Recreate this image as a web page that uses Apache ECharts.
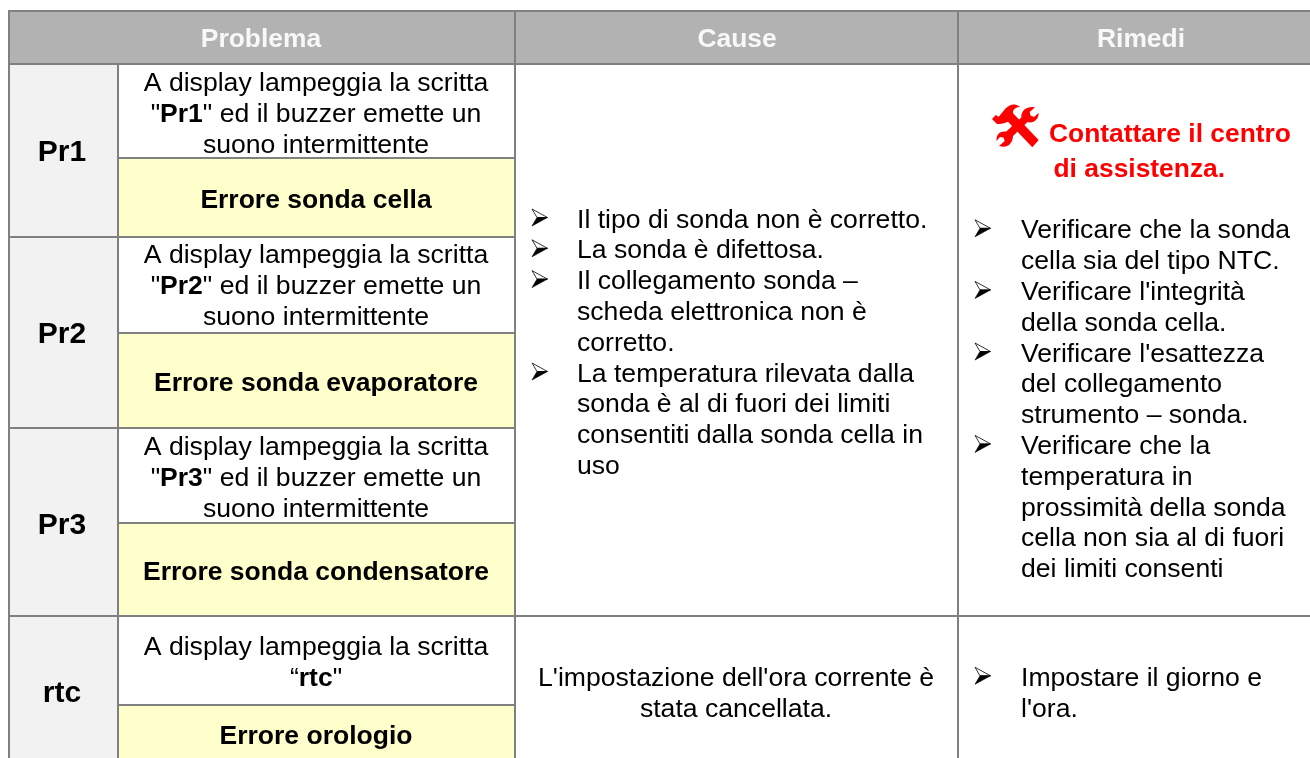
<!DOCTYPE html>
<html>
<head>
<meta charset="utf-8">
<title>Tabella allarmi</title>
<script src="https://cdn.jsdelivr.net/npm/echarts@6/dist/echarts.min.js"></script>
<style>
html, body { margin: 0; padding: 0; background: #fff; overflow: hidden; }
#chart { width: 1310px; height: 758px; }
</style>
</head>
<body>
<div id="chart"></div>
<script>
// table content
const columnHeaders = ['Problema', 'Cause', 'Rimedi'];
const problemCodes = ['Pr1', 'Pr2', 'Pr3', 'rtc'];
const displayMessages = [
    ['A display lampeggia la scritta', '"{b|Pr1}" ed il buzzer emette un', 'suono intermittente'],
    ['A display lampeggia la scritta', '"{b|Pr2}" ed il buzzer emette un', 'suono intermittente'],
    ['A display lampeggia la scritta', '"{b|Pr3}" ed il buzzer emette un', 'suono intermittente'],
    ['A display lampeggia la scritta', '“{b|rtc}"']
];
const errorNames = ['Errore sonda cella', 'Errore sonda evaporatore', 'Errore sonda condensatore', 'Errore orologio'];
// a leading '>' marks a bullet line
const causeLines = [
    '>Il tipo di sonda non è corretto.',
    '>La sonda è difettosa.',
    '>Il collegamento sonda –',
    'scheda elettronica non è',
    'corretto.',
    '>La temperatura rilevata dalla',
    'sonda è al di fuori dei limiti',
    'consentiti dalla sonda cella in',
    'uso'
];
const rtcCauseLines = ["L'impostazione dell'ora corrente è", 'stata cancellata.'];
const remedyTitle = ['Contattare il centro', 'di assistenza.'];
const remedyLines = [
    '>Verificare che la sonda',
    'cella sia del tipo NTC.',
    ">Verificare l'integrità",
    'della sonda cella.',
    ">Verificare l'esattezza",
    'del collegamento',
    'strumento – sonda.',
    '>Verificare che la',
    'temperatura in',
    'prossimità della sonda',
    'cella non sia al di fuori',
    'dei limiti consenti'
];
const rtcRemedyLines = ['>Impostare il giorno e', "l'ora."];

// layout, in page pixels
const colEdges = [9, 118, 515, 958, 1330];
const rowEdges = [11, 64, 158, 237, 333, 428, 523, 616, 705, 790];
const LINE = 30.8;
const FONT = 'Liberation Sans';
const BORDER = '#808080';
const BODY_SIZE = 26.6;
const BOLD_SIZE = 26.5;

const rich = { b: { fontFamily: FONT, fontWeight: 'bold', fontSize: BOLD_SIZE, color: '#000' } };

const cells = [
    { x0: 0, x1: 2, y0: 0, y1: 1, fill: '#b2b2b2' },
    { x0: 2, x1: 3, y0: 0, y1: 1, fill: '#b2b2b2' },
    { x0: 3, x1: 4, y0: 0, y1: 1, fill: '#b2b2b2' },
    { x0: 2, x1: 3, y0: 1, y1: 7, fill: '#fff' },
    { x0: 3, x1: 4, y0: 1, y1: 7, fill: '#fff' },
    { x0: 2, x1: 3, y0: 7, y1: 9, fill: '#fff' },
    { x0: 3, x1: 4, y0: 7, y1: 9, fill: '#fff' }
];
problemCodes.forEach((code, i) => {
    const r = 1 + i * 2;
    cells.push({ x0: 0, x1: 1, y0: r, y1: r + 2, fill: '#f2f2f2' });
    cells.push({ x0: 1, x1: 2, y0: r, y1: r + 1, fill: '#fff' });
    cells.push({ x0: 1, x1: 2, y0: r + 1, y1: r + 2, fill: '#ffffcc' });
});

const texts = [];
const bullets = [];
function addText(text, x, y, opt) {
    texts.push(Object.assign({ text, x, y, size: BODY_SIZE, weight: 'normal', color: '#000', align: 'left' }, opt));
}
function addList(lines, textX, bulletX, startY) {
    lines.forEach((line, i) => {
        const y = startY + i * LINE;
        if (line[0] === '>') {
            bullets.push([bulletX, y - 2.7]);
            line = line.slice(1);
        }
        addText(line, textX, y);
    });
}

const headerX = [261, 737, 1141];
columnHeaders.forEach((h, i) => addText(h, headerX[i], 39.7, { weight: 'bold', size: 26.4, color: '#f8f8f8', align: 'center' }));

const codeY = [153.2, 335.2, 525.8, 693.8];
const messageY = [84, 256, 448, 648];
const errorY = [200.5, 384, 572.5, 737];
problemCodes.forEach((code, i) => {
    addText(code, 62, codeY[i], { weight: 'bold', size: 30, align: 'center' });
    displayMessages[i].forEach((line, j) => addText(line, 316, messageY[i] + j * 31, { align: 'center' }));
    addText(errorNames[i], 316, errorY[i], { weight: 'bold', size: BOLD_SIZE, align: 'center' });
});

addList(causeLines, 577, 532, 220.2);
rtcCauseLines.forEach((line, j) => addText(line, 736, 678.5 + j * LINE, { align: 'center' }));

remedyTitle.forEach((line, j) => addText(line, [1049, 1053.5][j], [135.2, 170][j], { weight: 'bold', size: 26.4, color: '#ff0000' }));
addList(remedyLines, 1021, 975, 231);
addList(rtcRemedyLines, 1021, 975, 678.5);

// tool icon, path coordinates relative to its top left corner
const hammerPath = 'M0 15 L3.7 11 L6.7 12.7 L13.7 4.3 Q18 0 23 0.5 Q26 1 28 3 Q23 3 21 7 L21 9.3 L46.7 36 L40.3 43.3 L16 17.7 L12 19.3 L8 20 L5 20 Z';
const wrenchPath = 'M43 3.3 L37.7 8 L38.5 11.5 L42 13 L46.7 9 Q47 14 42 17.5 Q38 19 35.5 18 L21 32 Q21 37 17 41 Q13 44 7 42 L12.7 37 L11.5 33.5 L8 33 L4.5 37 Q4 31 8 28.5 Q11 27 14.3 27.5 L29.3 13.5 Q29 8 33 5 Q38 2 43 3.3 Z';

const chart = echarts.init(document.getElementById('chart'));
chart.setOption({
    animation: false,
    grid: { left: 0, right: 0, top: 0, bottom: 0 },
    xAxis: { type: 'value', min: 0, max: 1310, show: false },
    yAxis: { type: 'value', min: 0, max: 758, inverse: true, show: false },
    series: [
        {
            type: 'custom',
            clip: false,
            silent: true,
            data: cells.map(c => [colEdges[c.x0], rowEdges[c.y0], colEdges[c.x1], rowEdges[c.y1]]),
            renderItem(params, api) {
                const a = api.coord([api.value(0), api.value(1)]);
                const b = api.coord([api.value(2), api.value(3)]);
                return {
                    type: 'rect',
                    shape: { x: a[0], y: a[1], width: b[0] - a[0], height: b[1] - a[1] },
                    style: { fill: cells[params.dataIndex].fill, stroke: BORDER, lineWidth: 2 }
                };
            }
        },
        {
            type: 'custom',
            clip: false,
            silent: true,
            z: 3,
            data: texts.map(t => [t.x, t.y]),
            renderItem(params, api) {
                const t = texts[params.dataIndex];
                const p = api.coord([api.value(0), api.value(1)]);
                return {
                    type: 'text',
                    style: {
                        text: t.text,
                        x: p[0],
                        y: p[1],
                        fill: t.color,
                        align: t.align,
                        verticalAlign: 'middle',
                        font: t.weight + ' ' + t.size + 'px "' + FONT + '"',
                        rich: rich
                    }
                };
            }
        },
        {
            type: 'custom',
            clip: false,
            silent: true,
            z: 3,
            data: bullets,
            renderItem(params, api) {
                const p = api.coord([api.value(0), api.value(1)]);
                const x = p[0], y = p[1];
                return {
                    type: 'group',
                    children: [
                        {
                            type: 'polygon',
                            shape: { points: [[x, y - 8.5], [x + 15.5, y], [x + 5, y]] },
                            style: { fill: '#fff', stroke: '#000', lineWidth: 0.8 }
                        },
                        {
                            type: 'polygon',
                            shape: { points: [[x, y + 8.5], [x + 15.5, y], [x + 5, y]] },
                            style: { fill: '#000', stroke: '#000', lineWidth: 0.6 }
                        }
                    ]
                };
            }
        },
        {
            type: 'custom',
            clip: false,
            silent: true,
            z: 3,
            data: [[992, 104]],
            renderItem(params, api) {
                const a = api.coord([api.value(0), api.value(1)]);
                return {
                    type: 'group',
                    x: a[0],
                    y: a[1],
                    children: [hammerPath, wrenchPath].map(d => ({
                        type: 'path',
                        shape: { pathData: d },
                        style: { fill: '#ff0000' }
                    }))
                };
            }
        }
    ]
});
</script>
</body>
</html>
